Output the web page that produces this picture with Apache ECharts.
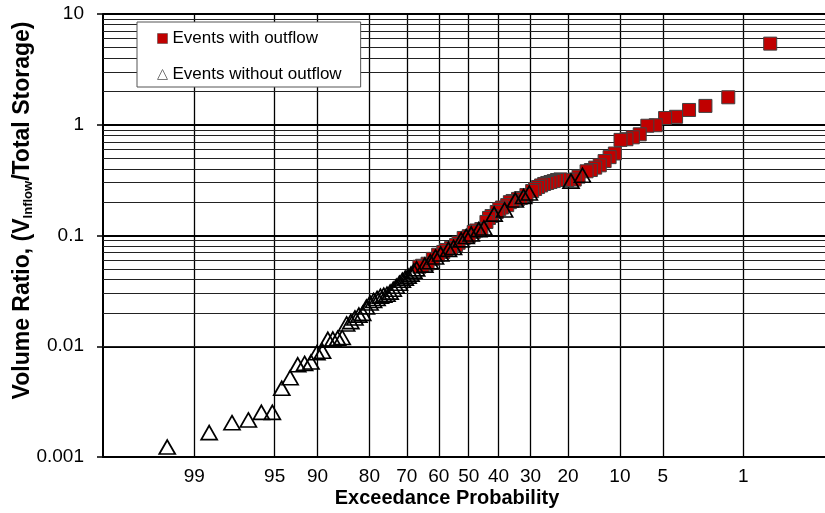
<!DOCTYPE html>
<html><head><meta charset="utf-8">
<script src="https://cdn.jsdelivr.net/npm/echarts@6/dist/echarts.min.js"></script>
<style>html,body{margin:0;padding:0;background:#fff}#c{width:825px;height:513px}</style>
</head><body><div id="c"></div>
<script>
// Tick labels
const xTickLabels = [99, 95, 90, 80, 70, 60, 50, 40, 30, 20, 10, 5, 1];
const yTickLabels = ['0.001', '0.01', '0.1', '1', '10'];
const yMinorLines = [0.002,0.003,0.004,0.005,0.006,0.007,0.008,0.009,
  0.02,0.03,0.04,0.05,0.06,0.07,0.08,0.09,
  0.2,0.3,0.4,0.5,0.6,0.7,0.8,0.9,
  2,3,4,5,6,7,8,9];

// Events with outflow: exceedance probability (%) and volume ratio
const outflowProb = [0.53,1.39,2.24,3.09,3.94,4.80,5.65,6.50,7.36,8.21,9.06,9.91,10.77,11.62,12.47,13.33,14.18,15.03,15.89,
  17.59,18.44,20.15,21.00,21.86,22.71,23.56,24.41,25.27,26.12,26.97,27.83,28.68,29.53,
  31.24,32.94,33.80,35.50,36.36,37.21,38.91,39.77,40.62,42.33,43.18,44.03,45.74,47.44,48.30,
  50.00,51.70,53.41,54.26,55.97,57.67,58.53,60.23,61.94,63.64,65.35,66.20];
const outflowRatio = [5.4,1.77,1.48,1.36,1.18,1.15,0.99,0.98,0.82,0.77,0.74,0.73,0.55,0.51,0.47,0.43,0.41,0.39,0.38,
  0.34,0.32,0.317,0.317,0.321,0.317,0.31,0.304,0.298,0.292,0.283,0.274,0.263,0.252,
  0.232,0.218,0.214,0.205,0.200,0.188,0.179,0.173,0.163,0.150,0.144,0.1325,0.1145,0.111,0.1076,
  0.0985,0.095,0.086,0.082,0.077,0.074,0.071,0.067,0.0615,0.0556,0.0533,0.0522];

// Events without outflow
const noOutflowProb = [16.74,19.30,30.38,32.09,34.65,38.06,41.47,44.88,46.59,49.15,50.85,52.56,55.12,56.82,59.38,61.09,62.79,64.50,
  67.06,67.91,68.76,69.62,70.47,71.32,72.17,73.03,73.88,74.73,75.59,76.44,77.29,78.14,79.00,79.85,80.70,81.56,82.41,83.26,
  84.11,84.97,85.82,86.67,87.53,88.38,89.23,90.09,90.94,91.79,92.64,93.50,94.35,95.20,96.06,96.91,97.76,98.61,99.47];
const noOutflowRatio = [0.35,0.31,0.242,0.225,0.209,0.170,0.156,0.117,0.113,0.103,0.098,0.0913,0.078,0.075,0.068,0.064,0.058,0.054,
  0.050,0.0477,0.0448,0.0430,0.0412,0.0395,0.0371,0.0348,0.0327,0.0308,0.0295,0.0289,0.0283,0.0270,0.0259,0.0246,0.0226,0.0198,0.0191,0.0180,
  0.0167,0.0159,0.0120,0.0118,0.0116,0.01155,0.0090,0.00875,0.0072,0.0070,0.0068,0.0052,0.00417,0.00253,0.00253,0.00216,0.00204,0.00166,0.00123];

// Normal probability scale transform (inverse standard normal CDF, Acklam)
function normInv(p){
  const a=[-3.969683028665376e+01,2.209460984245205e+02,-2.759285104469687e+02,1.383577518672690e+02,-3.066479806614716e+01,2.506628277459239e+00];
  const b=[-5.447609879822406e+01,1.615858368580409e+02,-1.556989798598866e+02,6.680131188771972e+01,-1.328068155288572e+01];
  const c=[-7.784894002430293e-03,-3.223964580411365e-01,-2.400758277161838e+00,-2.549732539343734e+00,4.374664141464968e+00,2.938163982698783e+00];
  const d=[7.784695709041462e-03,3.224671290700398e-01,2.445134137142996e+00,3.754408661907416e+00];
  const pl=0.02425, ph=1-pl; let q,r;
  if(p<pl){q=Math.sqrt(-2*Math.log(p));return (((((c[0]*q+c[1])*q+c[2])*q+c[3])*q+c[4])*q+c[5])/((((d[0]*q+d[1])*q+d[2])*q+d[3])*q+1);}
  if(p<=ph){q=p-0.5;r=q*q;return (((((a[0]*r+a[1])*r+a[2])*r+a[3])*r+a[4])*r+a[5])*q/(((((b[0]*r+b[1])*r+b[2])*r+b[3])*r+b[4])*r+1);}
  q=Math.sqrt(-2*Math.log(1-p));return -(((((c[0]*q+c[1])*q+c[2])*q+c[3])*q+c[4])*q+c[5])/((((d[0]*q+d[1])*q+d[2])*q+d[3])*q+1);
}
const toX = p => normInv(1 - p / 100);
const xTickValues = xTickLabels.map(toX);

const FONT = "'Liberation Sans', Arial, sans-serif";
const chart = echarts.init(document.getElementById('c'), null, {renderer: 'canvas'});
chart.setOption({
  animation: false,
  backgroundColor: '#fff',
  textStyle: {fontFamily: FONT},
  grid: {left: 103, right: 0, top: 14, bottom: 56, containLabel: false, outerBoundsMode: 'none'},
  legend: {
    orient: 'vertical', left: 137, top: 22,
    backgroundColor: '#fff', borderColor: '#555', borderWidth: 1, borderRadius: 0,
    padding: [8, 19, 4, 20], itemGap: 19, itemWidth: 10, itemHeight: 10,
    textStyle: {fontSize: 17, color: '#000', fontFamily: FONT},
    data: [
      {name: 'Events with outflow', icon: 'rect', itemStyle: {color: '#C00000', borderColor: '#404040', borderWidth: 0.5}},
      {name: 'Events without outflow', icon: 'triangle', itemStyle: {color: 'rgba(0,0,0,0)', borderColor: '#777', borderWidth: 1}}
    ]
  },
  xAxis: {
    type: 'value', min: -3.1, max: 3.02,
    name: 'Exceedance Probability', nameLocation: 'middle', nameGap: 31, nameMoveOverlap: false,
    nameTextStyle: {fontSize: 20, fontWeight: 'bold', color: '#000', fontFamily: FONT, padding: [0, 34, 0, 0]},
    axisLine: {show: true, onZero: false, lineStyle: {color: '#000', width: 2}},
    axisTick: {show: false, customValues: xTickValues},
    axisLabel: {
      customValues: xTickValues, margin: 10, fontSize: 19, color: '#000', fontFamily: FONT,
      formatter: function (v) {
        let best = xTickLabels[0], bd = 1e9;
        xTickLabels.forEach(function (p) { const d = Math.abs(toX(p) - v); if (d < bd) { bd = d; best = p; } });
        return String(best);
      }
    },
    splitLine: {show: true, lineStyle: {color: '#000', width: 1.3}}
  },
  yAxis: {
    type: 'log', logBase: 10, min: 0.001, max: 10,
    name: 'Volume Ratio, (V{sub|Inflow}/Total Storage)', nameLocation: 'middle', nameGap: 68, nameMoveOverlap: false,
    nameTextStyle: {
      fontSize: 23, fontWeight: 'bold', color: '#000', fontFamily: FONT, lineHeight: 25,
      padding: [0, 0, 0, 50],
      rich: {sub: {fontSize: 13, fontWeight: 'bold', color: '#000', fontFamily: FONT, verticalAlign: 'bottom', lineHeight: 13}}
    },
    axisLine: {show: true, onZero: false, lineStyle: {color: '#000', width: 2}},
    axisTick: {show: true, length: 6, inside: false, lineStyle: {color: '#000', width: 1.5}},
    axisLabel: {
      margin: 19, fontSize: 19, color: '#000', fontFamily: FONT,
      formatter: function (v) { const e = Math.round(Math.log10(v)); return yTickLabels[e + 3]; }
    },
    splitLine: {show: true, lineStyle: {color: '#000', width: 2}},
    minorTick: {show: false}, minorSplitLine: {show: false}
  },
  series: [
    {
      name: 'Events with outflow', type: 'scatter', z: 2,
      symbol: 'rect', symbolSize: 13,
      itemStyle: {color: '#C00000', borderColor: '#404040', borderWidth: 1, opacity: 1},
      data: outflowProb.map(function (p, i) { return [toX(p), outflowRatio[i]]; }),
      markLine: {
        silent: true, symbol: 'none', z: 1, animation: false,
        label: {show: false},
        lineStyle: {color: '#222', width: 1, type: 'solid'},
        emphasis: {disabled: true},
        data: yMinorLines.map(function (v) { return {yAxis: v}; })
      }
    },
    {
      name: 'Events without outflow', type: 'scatter', z: 3,
      symbol: 'triangle', symbolSize: [16, 14],
      itemStyle: {color: 'rgba(0,0,0,0)', borderColor: '#000', borderWidth: 1.7, opacity: 1},
      data: noOutflowProb.map(function (p, i) { return [toX(p), noOutflowRatio[i]]; })
    }
  ]
});
</script></body></html>
